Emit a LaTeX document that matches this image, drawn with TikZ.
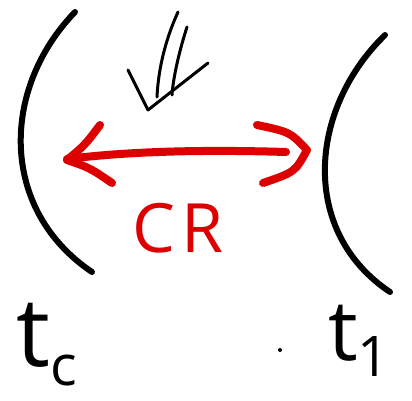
\documentclass[tikz,border=0pt]{standalone}
\usepackage{fontspec}
\setsansfont{Open Sans}
\definecolor{penred}{HTML}{DD0000}
\tikzset{
  pen/.style={line width=#1, line cap=round, line join=round},
  txt/.style={inner sep=0pt, font=\sffamily},
}
\begin{document}
\begin{tikzpicture}[x=1pt,y=-1pt]
\useasboundingbox (0,0) rectangle (412,401);
% brackets
\draw[pen=6] (75,12) .. controls (0,90) and (0,210) .. (92,272);
\draw[pen=6] (385,35) .. controls (308,110) and (300,232) .. (390,292);
% hand-drawn down arrow
\draw[pen=3] (178,12) .. controls (163,45) and (158,75) .. (157,97);
\draw[pen=3] (187,27) .. controls (178,55) and (173,80) .. (172,95);
\draw[pen=3] (128,70) -- (148,110) -- (208,63);
% red double arrow
\draw[pen=8, penred] (67,159) .. controls (140,150) and (220,150) .. (286,152);
\draw[pen=8, penred] (100,125) .. controls (85,145) .. (67,160) .. controls (90,168) .. (112,183);
\draw[pen=8, penred] (257,125) .. controls (290,132) .. (307,150) .. controls (295,172) .. (263,183);
% labels
\node[txt, text=penred, font=\sffamily\fontsize{68}{68}\selectfont, anchor=base] (cr) at (178,252) {C\hspace{6pt}R};
\node[txt, anchor=base west] (tc) at (16,366) {\fontsize{96}{96}\selectfont t\raisebox{-0.2em}{\fontsize{56}{56}\selectfont c}};
\node[txt, anchor=base west] (t1) at (328,360) {\fontsize{84}{84}\selectfont t\raisebox{-0.2em}{\fontsize{56}{56}\selectfont 1}};
\fill (280,350) circle (2);
\end{tikzpicture}
\end{document}
